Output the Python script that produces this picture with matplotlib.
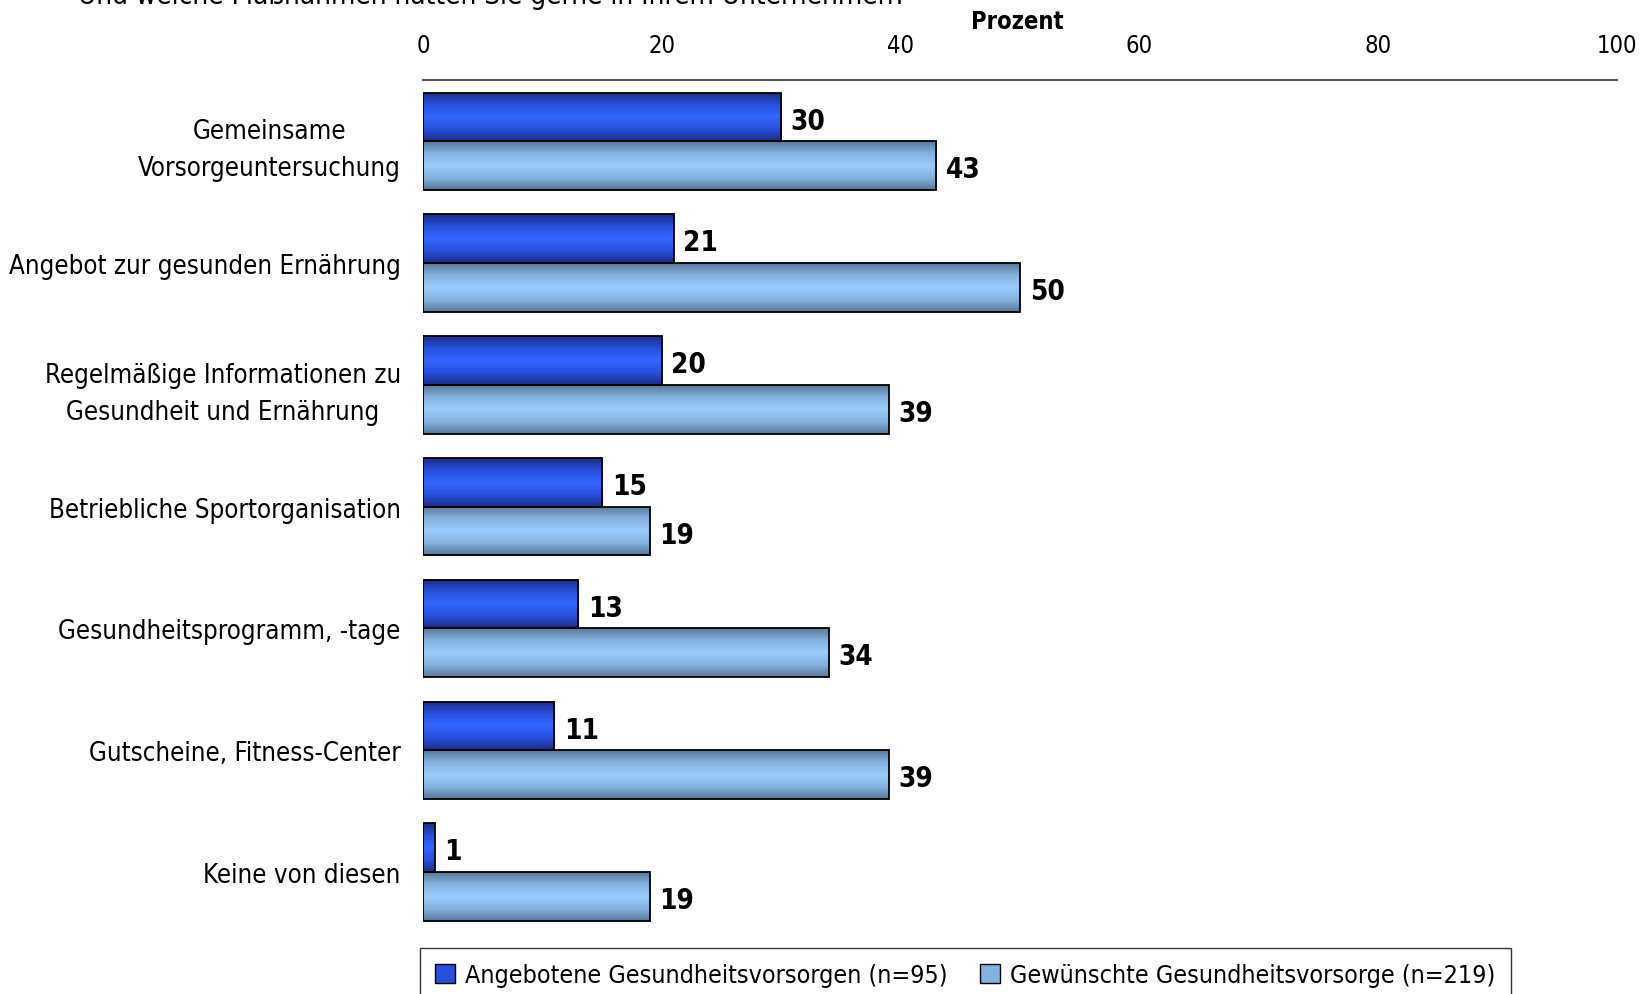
import numpy as np
import matplotlib.pyplot as plt
from matplotlib.colors import LinearSegmentedColormap
from matplotlib.patches import Patch

categories = [
    "Gemeinsame\nVorsorgeuntersuchung",
    "Angebot zur gesunden Ernährung",
    "Regelmäßige Informationen zu\nGesundheit und Ernährung",
    "Betriebliche Sportorganisation",
    "Gesundheitsprogramm, -tage",
    "Gutscheine, Fitness-Center",
    "Keine von diesen",
]
offered = [30, 21, 20, 15, 13, 11, 1]
wanted = [43, 50, 39, 19, 34, 39, 19]
series_names = ["Angebotene Gesundheitsvorsorgen (n=95)",
                "Gewünschte Gesundheitsvorsorge (n=219)"]
xticks = [0, 20, 40, 60, 80, 100]

plt.rcParams['font.family'] = ['DejaVu Sans']
COND = 'condensed'

dark_cmap = LinearSegmentedColormap.from_list(
    "dark", ["#1a2b85", "#2850dc", "#3366ff", "#2850dc", "#1a2b85"])
light_cmap = LinearSegmentedColormap.from_list(
    "light", ["#5a7799", "#84b2df", "#99ccff", "#84b2df", "#5a7799"])


def gradient_bars(ax, bars, cmap):
    grad = np.linspace(0, 1, 256).reshape(-1, 1)
    for b in bars:
        x0, y0 = b.get_x(), b.get_y()
        w, h = b.get_width(), b.get_height()
        im = ax.imshow(grad, cmap=cmap, aspect='auto',
                       extent=[x0, x0 + w, y0 + h, y0], zorder=2)
        im.set_clip_path(b)
        b.set_facecolor('none')
        b.set_zorder(3)


fig = plt.figure(figsize=(16.41, 9.95), dpi=100)
ax = fig.add_axes([0.2578, 0.0675, 0.7276, 0.8515])

y = np.arange(len(categories))
h = 0.40
b1 = ax.barh(y - h / 2, offered, height=h, edgecolor='black', linewidth=1.3)
b2 = ax.barh(y + h / 2, wanted, height=h, edgecolor='black', linewidth=1.3)
gradient_bars(ax, b1, dark_cmap)
gradient_bars(ax, b2, light_cmap)

for yy, v in zip(y - h / 2, offered):
    ax.text(v + 0.8, yy + 0.03, str(v), va='center', ha='left', fontsize=20,
            fontweight='bold', fontstretch=COND)
for yy, v in zip(y + h / 2, wanted):
    ax.text(v + 0.8, yy + 0.03, str(v), va='center', ha='left', fontsize=20,
            fontweight='bold', fontstretch=COND)

ax.set_xlim(0, 100)
ax.set_ylim(6.45, -0.507)
ax.set_yticks(y)
ax.set_yticklabels(categories, fontsize=18.5, fontstretch=COND,
                   multialignment='center', linespacing=1.55)
ax.set_xticks(xticks)
ax.set_xticklabels([str(t) for t in xticks], fontsize=17, fontstretch=COND)
ax.xaxis.tick_top()
ax.tick_params(axis='both', length=0)
ax.tick_params(axis='x', pad=16)
ax.tick_params(axis='y', pad=16)
for s in ['left', 'right', 'bottom']:
    ax.spines[s].set_visible(False)
ax.spines['top'].set_color('#555555')
ax.spines['top'].set_linewidth(1.5)

fig.text(1017 / 1641, 1 - 22 / 995, "Prozent", ha='center', va='center',
         fontsize=17, fontweight='bold', fontstretch=COND)
fig.text(78 / 1641, 1 - 4 / 995,
         "Und welche Maßnahmen hätten Sie gerne in Ihrem Unternehmen?",
         ha='left', va='baseline', fontsize=20, fontstretch=COND)

handles = [Patch(facecolor='#2850dc', edgecolor='black'),
           Patch(facecolor='#84b2df', edgecolor='black')]
leg = fig.legend(handles, series_names, loc='upper left',
                 bbox_to_anchor=(420 / 1641, 1 - 949 / 995),
                 borderaxespad=0, ncol=2, frameon=True, fancybox=False,
                 handlelength=0.8, handleheight=0.8, handletextpad=0.4,
                 columnspacing=1.3, borderpad=0.6,
                 prop={'size': 18, 'stretch': COND})
leg.get_frame().set_edgecolor('black')
leg.get_frame().set_linewidth(1.0)

fig.savefig("out.png", dpi=100)
